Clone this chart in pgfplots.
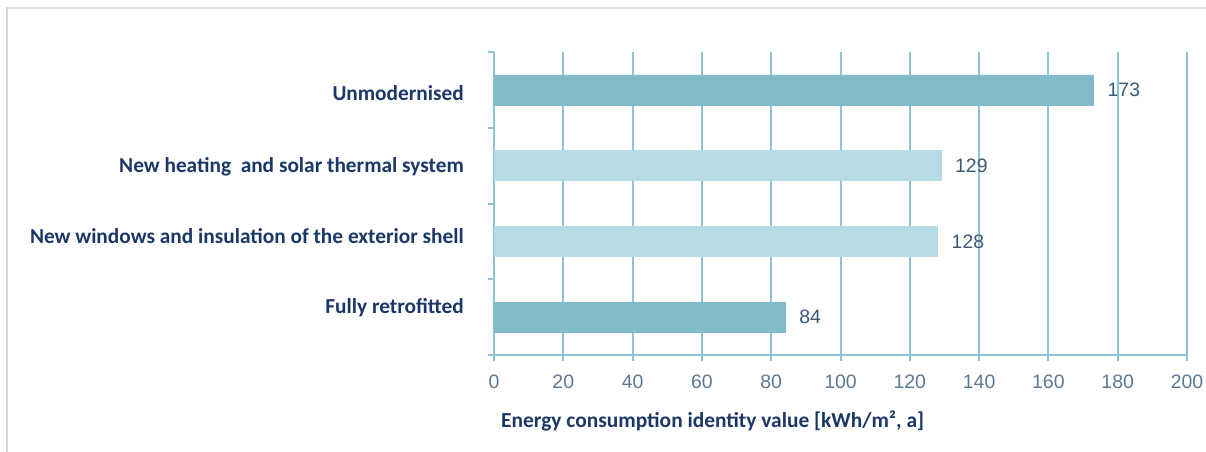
\documentclass[border=0pt]{standalone}
\usepackage{pgfplots}
\pgfplotsset{compat=1.18}
\usepackage{fontspec}
\setmainfont{Liberation Sans}
\newfontfamily\labfont{Carlito}
\definecolor{navy}{HTML}{1B3768}
\definecolor{gridc}{HTML}{8DC3D2}
\definecolor{darkbar}{HTML}{80BACB}
\definecolor{lightbar}{HTML}{B6DBE5}
\definecolor{tickc}{HTML}{5F7890}
\definecolor{valc}{HTML}{3C5875}
\definecolor{framec}{HTML}{DADADA}
\begin{document}
\begin{tikzpicture}
\useasboundingbox (0,0) rectangle (1206bp,-452bp);
\draw[framec, line width=2bp] (7bp,-460bp) -- (7bp,-8bp) -- (1210bp,-8bp);
\begin{axis}[
  at={(494bp,-355bp)}, anchor=south west,
  scale only axis, width=693bp, height=303bp,
  xmin=0, xmax=200, ymin=-0.5, ymax=3.5,
  xbar, bar width=30bp, bar shift=0pt,
  axis lines=left,
  axis line style={-, gridc, line width=2bp},
  xtick={0,20,...,200},
  xmajorgrids,
  grid style={gridc, line width=2bp},
  tick align=outside,
  major tick length=6bp,
  minor tick length=6bp,
  tick style={gridc, line width=2bp},
  ytick={0,1,2,3},
  yticklabels={\raisebox{4bp}{Fully retrofitted},\raisebox{-2bp}{New windows and insulation of the exterior shell},\raisebox{-7bp}{New heating\ \ and solar thermal system},\raisebox{-11bp}{Unmodernised}},
  minor ytick={-0.5,0.5,1.5,2.5,3.5},
  every major y tick/.append style={draw opacity=0},
  yticklabel style={font=\labfont\bfseries\fontsize{21.4}{21.4}\selectfont, text=navy, anchor=base east, xshift=-24bp, inner sep=0pt},
  xticklabel style={font=\fontsize{19.5}{19.5}\selectfont, text=tickc, yshift=-10bp},
  /pgf/number format/assume math mode=true,
  point meta=x,
  nodes near coords,
  nodes near coords style={font=\fontsize{19.5}{19.5}\selectfont, text=valc, anchor=west, inner sep=0pt, xshift=14bp},
  clip=false,
]
\addplot[fill=darkbar, draw=darkbar] coordinates {(173,3) (84,0)};
\addplot[fill=lightbar, draw=lightbar] coordinates {(129,2) (128,1)};
\end{axis}
\node[anchor=base west, inner sep=0pt, text=navy, font=\labfont\bfseries\fontsize{21.5}{21.5}\selectfont] at (501bp,-427bp) {Energy consumption identity value [kWh/m², a]};
\end{tikzpicture}
\end{document}
